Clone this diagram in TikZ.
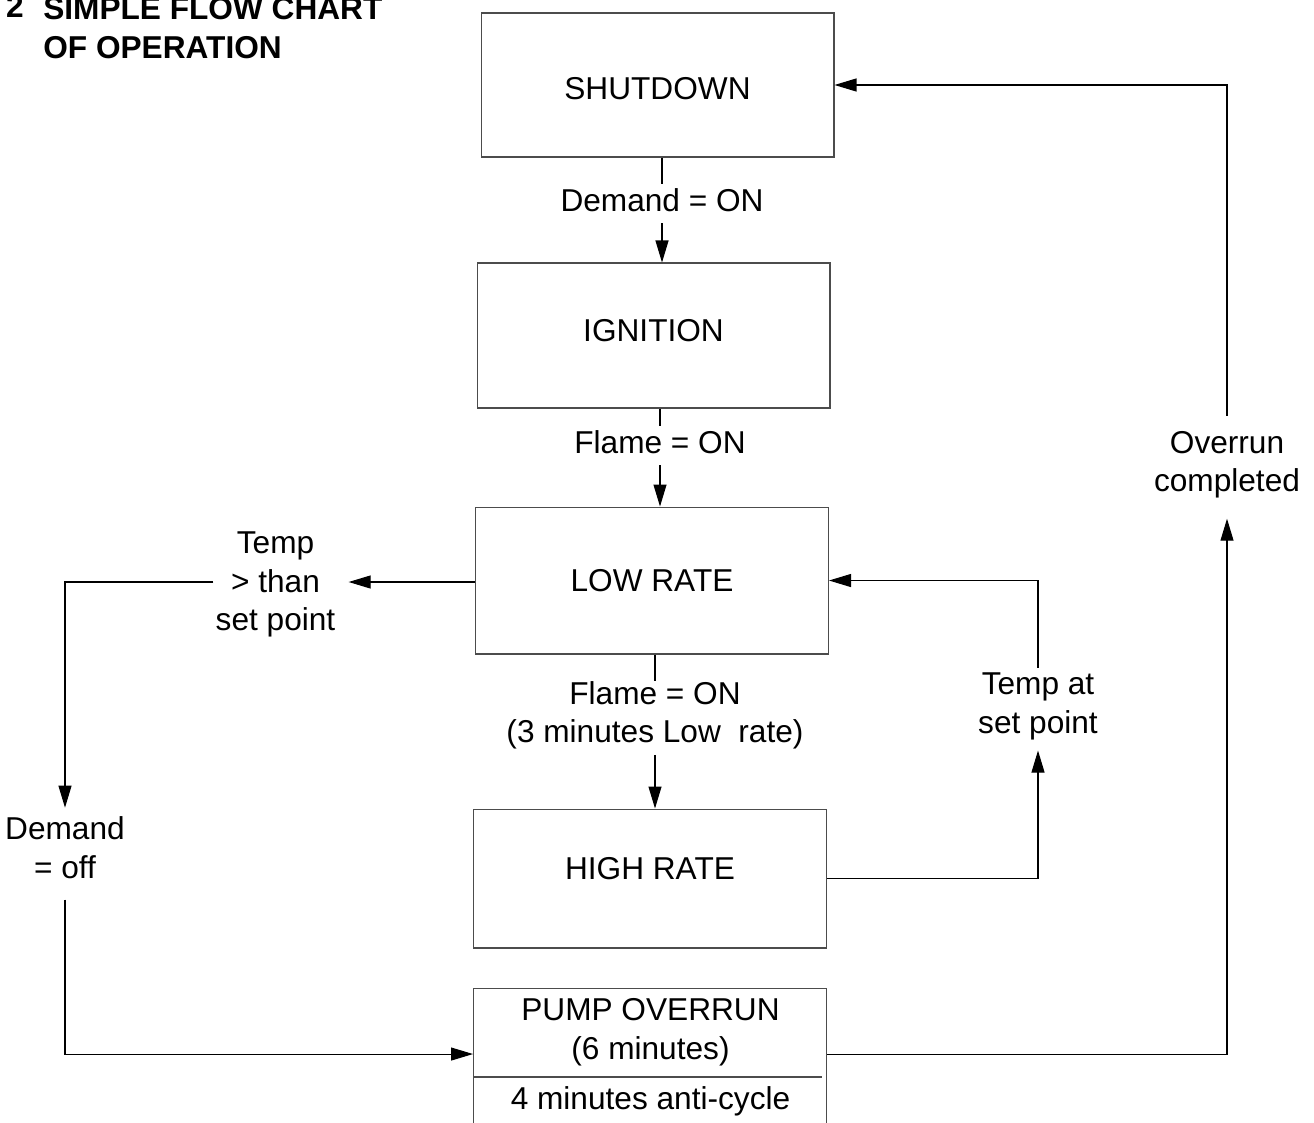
\documentclass[tikz,border=0pt]{standalone}
\usepackage{fontspec}
\setmainfont{Liberation Sans}
\usepackage{tikz}
\usetikzlibrary{arrows.meta,positioning}

\begin{document}
\begin{tikzpicture}[
  x=0.02cm, y=-0.02cm,
  every node/.style={font=\fontsize{18}{22}\selectfont},
  box/.style={draw=black!70,line width=0.6pt,minimum width=7.06cm,inner sep=0pt},
  lbl/.style={align=center,inner sep=0pt,execute at begin node=\strut,execute at end node=\strut},
  headline/.style={inner sep=0pt,font=\fontsize{18}{22}\selectfont\bfseries},
  con/.style={line width=0.6pt},
  arr/.style={-{Triangle[length=0.44cm,width=0.26cm]},line width=0.6pt}
]
\useasboundingbox (0,0) rectangle (1314,1122);
% title
\node[headline,anchor=base east] (num) at (24,18) {2};
\node[headline,anchor=north west,align=left,execute at begin node=\strut] (title) at (43,-2.9) {SIMPLE FLOW CHART\\OF OPERATION};
% states
\node[box,minimum height=2.88cm,text height=0.58cm] (shut) at (657.5,85) {SHUTDOWN};
\node[box,minimum height=2.9cm,text depth=0.2cm,below=2.1cm of shut,xshift=-0.08cm] (ign) {IGNITION};
\node[box,minimum height=2.94cm,below=1.96cm of ign,xshift=-0.03cm] (low) {LOW RATE};
\node[box,minimum height=2.78cm,text depth=0.4cm,below=3.08cm of low,xshift=-0.04cm] (high) {HIGH RATE};
\node[box,minimum height=3.1cm,below=0.78cm of high] (pump) {};
\node[lbl] (ptxt) at (650.5,1035) {PUMP OVERRUN\\(6 minutes)};
\draw[con,draw=black!70] (pump.west |- 0,1077) -- ++(349,0);
\node[lbl] (anti) at (650.5,1101.6) {4 minutes anti-cycle};
% conditions
\node[lbl] (demon) at (662,203.4) {Demand = ON};
\node[lbl] (flamea) at (660,445.4) {Flame = ON};
\node[lbl] (flameb) at (655,718) {Flame = ON\\(3 minutes Low\ \ rate)};
\node[lbl,inner xsep=0.04cm] (tgt) at (275.5,587) {Temp\\> than\\set point};
\node[lbl,inner ysep=0.18cm] (doff) at (65,853.6) {Demand\\= off};
\node[lbl,inner ysep=0.1cm] (tas) at (1038,709.2) {Temp at\\set point};
\node[lbl,inner ysep=0.3cm] (ovr) at (1227,467.2) {Overrun\\completed};
% transitions
\draw[con] (shut.south -| demon) -- (demon);
\draw[arr] (demon) -- (demon |- ign.north);
\draw[con] (ign.south -| flamea) -- (flamea);
\draw[arr] (flamea) -- (flamea |- low.north);
\draw[con] (low.south -| flameb) -- (flameb);
\draw[arr] (flameb) -- (flameb |- high.north);
\draw[arr,shorten >=0.22cm] (low.west |- 0,582) -- (tgt.east |- 0,582);
\draw[arr] (tgt.west |- 0,582) -| (doff.north);
\draw[arr] (doff.south) |- ([yshift=0.23cm]pump.west);
\draw[arr] (high.east) -| (tas.south);
\draw[arr] (tas.north) |- (low.east);
\draw[arr] ([yshift=0.23cm]pump.east) -| (ovr.south);
\draw[arr] (ovr.north) |- (shut.east);
\end{tikzpicture}
\end{document}
